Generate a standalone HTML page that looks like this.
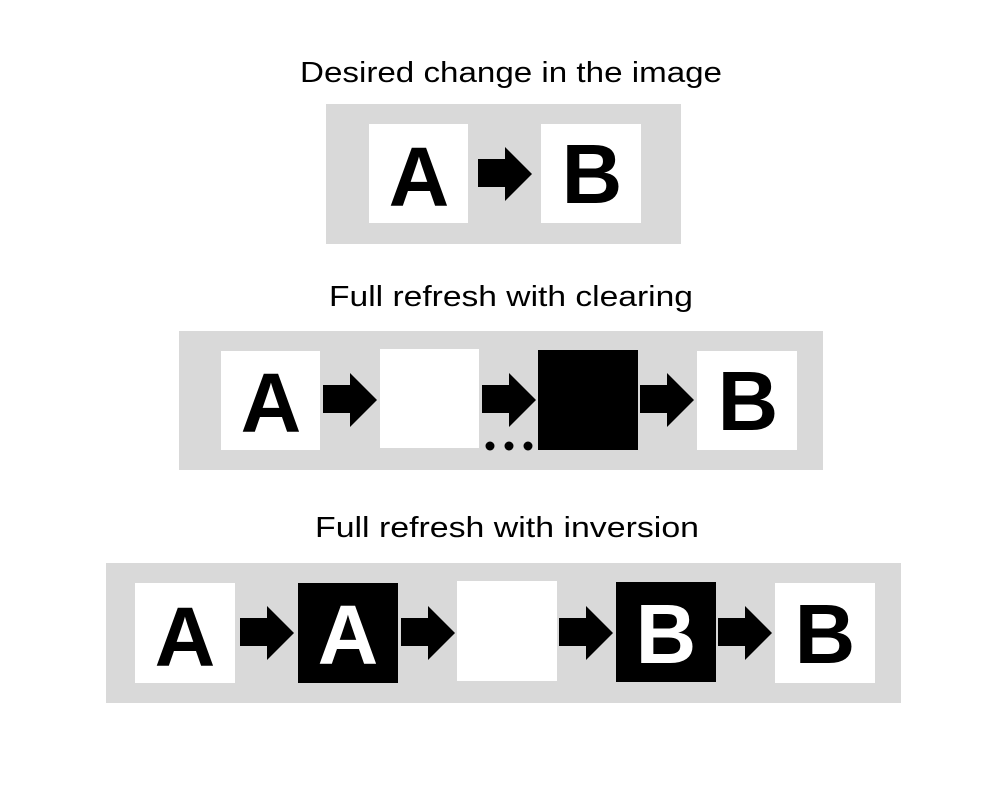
<!DOCTYPE html>
<html><head><meta charset="utf-8"><style>html,body{margin:0;padding:0;background:#fff}svg{display:block}</style></head>
<body>
<svg width="1000" height="800" viewBox="0 0 1000 800" xmlns="http://www.w3.org/2000/svg">
<defs>
<path id="arr" d="M0 12 H27 V0 L54 27 L27 54 V40 H0 Z"/>
</defs>
<g font-family="Liberation Sans, sans-serif" font-size="29" fill="#000">
<text x="300" y="82" textLength="422" lengthAdjust="spacingAndGlyphs">Desired change in the image</text>
<text x="329" y="306" textLength="364" lengthAdjust="spacingAndGlyphs">Full refresh with clearing</text>
<text x="315" y="537" textLength="384" lengthAdjust="spacingAndGlyphs">Full refresh with inversion</text>
</g>
<rect x="326" y="104" width="355" height="140" fill="#d9d9d9"/>
<rect x="179" y="331" width="644" height="139" fill="#d9d9d9"/>
<rect x="106" y="563" width="795" height="140" fill="#d9d9d9"/>
<g fill="#fff">
<rect x="369" y="124" width="99" height="99"/>
<rect x="541" y="124" width="100" height="99"/>
<rect x="221" y="351" width="99" height="99"/>
<rect x="380" y="349" width="99" height="99"/>
<rect x="697" y="351" width="100" height="99"/>
<rect x="135" y="583" width="100" height="100"/>
<rect x="457" y="581" width="100" height="100"/>
<rect x="775" y="583" width="100" height="100"/>
</g>
<g fill="#000">
<rect x="538" y="350" width="100" height="100"/>
<rect x="298" y="583" width="100" height="100"/>
<rect x="616" y="582" width="100" height="100"/>
<circle cx="490" cy="446" r="4.5"/><circle cx="509" cy="446" r="4.5"/><circle cx="528" cy="446" r="4.5"/>
<use href="#arr" x="478" y="147"/>
<use href="#arr" x="323" y="373"/>
<use href="#arr" x="482" y="373"/>
<use href="#arr" x="640" y="373"/>
<use href="#arr" x="240" y="606"/>
<use href="#arr" x="401" y="606"/>
<use href="#arr" x="559" y="606"/>
<use href="#arr" x="718" y="606"/>
</g>
<g font-family="Liberation Sans, sans-serif" font-weight="bold" font-size="84" text-anchor="middle">
<text x="419" y="206">A</text>
<text x="592" y="203">B</text>
<text x="271" y="432">A</text>
<text x="748" y="430">B</text>
<text x="185" y="666">A</text>
<text x="348" y="664" fill="#fff">A</text>
<text x="666" y="663" fill="#fff">B</text>
<text x="825" y="663">B</text>
</g>
</svg>
</body></html>
